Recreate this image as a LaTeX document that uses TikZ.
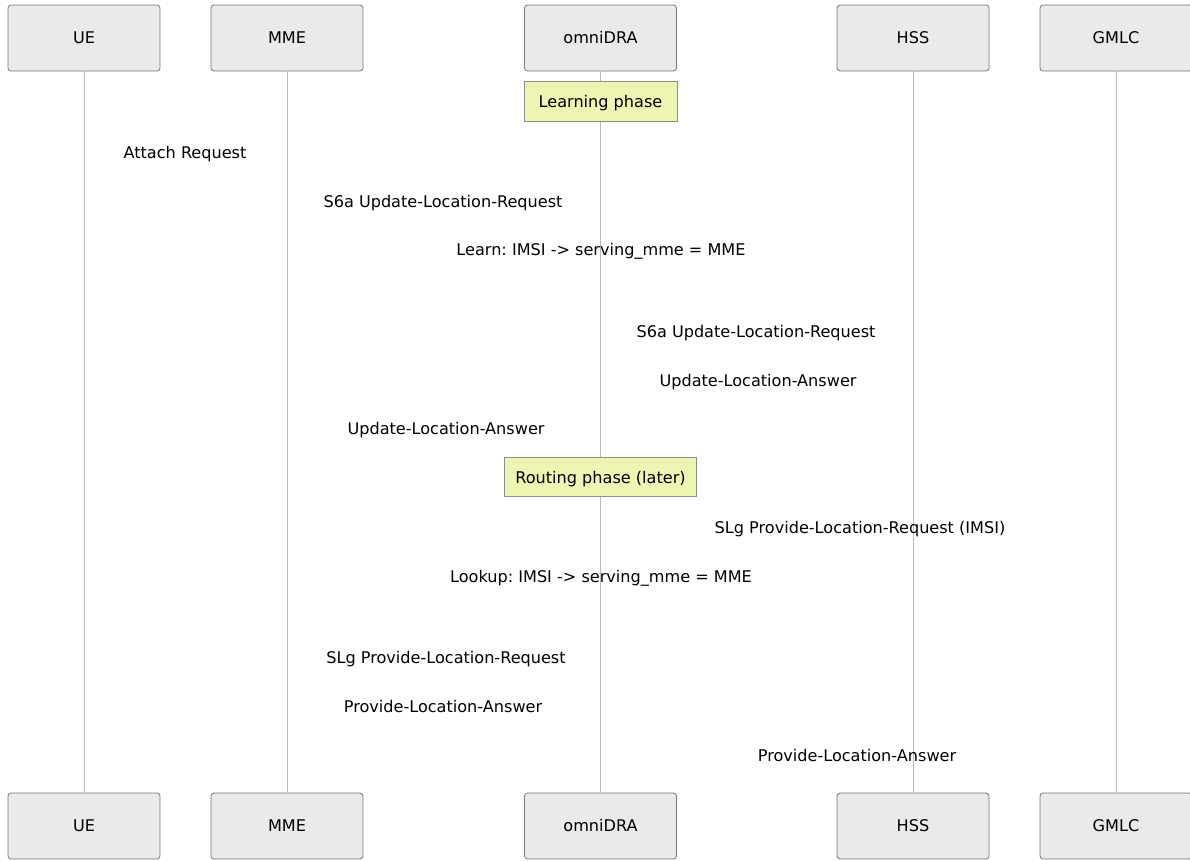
\documentclass[tikz,border=0pt]{standalone}
\usepackage{fontspec}
\setmainfont{DejaVu Sans}
\frenchspacing
\definecolor{actorfill}{RGB}{234,234,234}
\definecolor{actordraw}{RGB}{120,120,120}
\definecolor{lifeline}{RGB}{185,185,185}
\definecolor{notefill}{RGB}{238,244,178}
\definecolor{notedraw}{RGB}{140,140,140}
\begin{document}
\begin{tikzpicture}[x=1pt,y=-1pt,
  every node/.style={font=\fontsize{16.1}{19}\selectfont, text height=11.5pt, text depth=0pt, inner sep=0pt},
  actor/.style={draw=actordraw, fill=actorfill, rounded corners=3pt, line width=0.8pt, minimum width=152pt, minimum height=66pt},
  notebox/.style={draw=notedraw, fill=notefill, line width=0.8pt, minimum height=40pt},
  life/.style={draw=lifeline, line width=1pt},
  msg/.style={anchor=center, yshift=-1pt}]
\useasboundingbox (0,0) rectangle (1190,860);
% actors top
\node[actor] (ueT) at (84,38) {UE};
\node[actor] (mmeT) at (287,38) {MME};
\node[actor] (draT) at (600.5,38) {omniDRA};
\node[actor] (hssT) at (913,38) {HSS};
\node[actor] (gmlcT) at (1116,38) {GMLC};
% actors bottom
\node[actor] (ueB) at (84,826) {UE};
\node[actor] (mmeB) at (287,826) {MME};
\node[actor] (draB) at (600.5,826) {omniDRA};
\node[actor] (hssB) at (913,826) {HSS};
\node[actor] (gmlcB) at (1116,826) {GMLC};
% lifelines
\draw[life] (ueT.south) -- (ueB.north);
\draw[life] (mmeT.south) -- (mmeB.north);
\draw[life] (draT.south) -- (draB.north);
\draw[life] (hssT.south) -- (hssB.north);
\draw[life] (gmlcT.south) -- (gmlcB.north);
% notes
\node[notebox, minimum width=153pt] (learn) at (600.5,101) {\raisebox{-1pt}{Learning phase}};
\node[notebox, minimum width=192pt, minimum height=39pt] (route) at (600.5,476.5) {\raisebox{-1pt}{Routing phase (later)}};
% message labels
\node[msg] (m1) at (185,152) {Attach Request};
\node[msg] (m2) at (443,201) {S6a Update-Location-Request};
\node[msg] (m3) at (601,249) {Learn: IMSI -> serving\_mme = MME};
\node[msg] (m4) at (756,331) {S6a Update-Location-Request};
\node[msg] (m5) at (758,380) {Update-Location-Answer};
\node[msg] (m6) at (446,428) {Update-Location-Answer};
\node[msg] (m7) at (860,527) {SLg Provide-Location-Request (IMSI)};
\node[msg] (m8) at (601,576) {Lookup: IMSI -> serving\_mme = MME};
\node[msg] (m9) at (446,657) {SLg Provide-Location-Request};
\node[msg] (m10) at (443,706) {Provide-Location-Answer};
\node[msg] (m11) at (857,755) {Provide-Location-Answer};
\end{tikzpicture}
\end{document}
